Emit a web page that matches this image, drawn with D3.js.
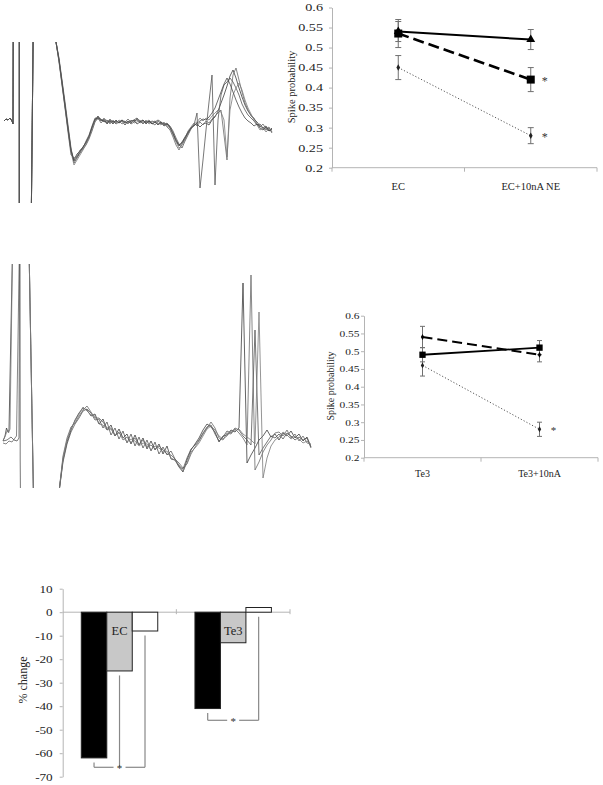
<!DOCTYPE html>
<html><head><meta charset="utf-8">
<script src="https://cdn.jsdelivr.net/npm/d3@7"></script>
<style>
body{margin:0;background:#fff;}
svg{display:block;}
</style></head><body>
<svg id="fig" width="603" height="785"></svg>
<script>
// ---------------- DATA ----------------
// Recording traces (time in ms, voltage in mV), panel A (EC)
const traceTopPrefix = [[0.4,0.2],[0.6,0.4],[0.8,0.3],[1.0,0.5],[1.2,0.2],[1.3,-0.1],[1.33,12],[1.93,12],[1.93,-12],[3.1,-12],[3.35,12],[5.0,12]];
const traceTopStart = 5.6, traceTopDt = 0.3;
const traceTop1 = [8.1,6.3,4.1,1.8,-0.5,-2.7,-3.7,-3.1,-2.8,-2.4,-2.0,-1.4,-0.5,0.3,0.7,0.2,0.4,-0.1,0.2,-0.1,0.3,0,0.2,-0.2,0.2,0,0.3,0.5,0.1,0.3,-0.1,0.2,-0.1,0.1,-0.2,0.1,-0.3,-0.1,-0.5,-1.1,-1.8,-2.3,-1.9,-1.4,-0.9,-0.5,-0.2,-0.1,-0.4,-0.1,0,-0.2,0.3,0.6,1.2,2.0,2.8,3.7,4.7,5.3,4.5,3.5,2.6,1.8,1.2,0.8,0.4,0.1,-0.3,-0.5,-0.3,-0.8,-0.5];
const traceTop2 = [8.1,6.1,3.8,1.5,-0.9,-3.2,-3.5,-3.3,-2.7,-2.5,-1.8,-1.2,-0.3,0.5,0.5,0,0.3,0.1,0.4,0,0.1,0.2,-0.1,0.1,0.4,0.1,0.2,0.3,0,0.2,0.1,0.3,0,-0.2,0.2,-0.1,0,-0.4,-0.7,-1.4,-2.2,-2.7,-2.1,-1.6,-0.8,-0.4,0,-0.3,0.1,-0.2,0.2,0,0.4,0.7,1.0,1.3,-1.2,-3.7,2.5,4.8,5.5,4.3,3.1,2.0,1.3,0.7,0.5,-0.1,-0.4,-0.1,-0.6,-0.4,-0.9];
const traceTop3 = [8.1,6.5,4.3,2.1,-0.2,-2.5,-4.0,-3.5,-3.0,-2.6,-2.2,-1.6,-0.8,0.1,0.6,0.4,0.1,0.3,0,0.2,-0.1,0.1,0.3,0,0.2,-0.1,0.1,0.4,0.2,-0.1,0.2,0,0.2,0.1,-0.1,0,-0.2,0,-0.3,-0.8,-1.5,-2.1,-2.5,-1.8,-1.2,-0.6,-0.2,1.0,-6.5,-3.7,-0.7,2.1,4.8,-6.2,0.3,2.8,3.8,4.1,4.5,4.1,3.5,2.8,1.9,1.3,0.8,0.5,0.2,-0.2,-0.1,-0.5,-0.7,-0.5,-1.0];
const traceTop4 = [8.1,6.2,3.9,1.6,-0.7,-2.9,-4.2,-3.7,-3.2,-2.7,-2.1,-1.4,-0.6,0.2,0.4,0.2,0.5,0.2,-0.1,0.3,0,0.3,0.1,0.2,-0.1,0.3,0,0.1,0.3,0,0.3,-0.1,0.1,0.2,0,-0.2,0.1,-0.3,-0.5,-1.2,-1.9,-2.5,-2.2,-1.7,-1.1,-0.5,-0.1,0.1,0.5,0.2,0.5,0.3,0.7,1.0,1.3,1.1,0.3,-3.4,1.3,2.8,3.5,4.0,3.3,2.3,1.5,0.9,0.3,-0.2,-0.7,-0.5,-0.9,-0.6,-0.7];
const traceTop5 = [8.1,6.3,4.0,1.7,-0.6,-2.8,-3.8,-3.4,-2.9,-2.4,-1.9,-1.3,-0.4,0.4,0.5,0.3,0.2,0,0.3,0.1,0.2,0,0.3,0.1,0,0.2,0.3,-0.1,0.1,0.3,0,0.2,-0.1,0.1,0.3,0.1,-0.1,-0.1,-0.4,-1.0,-1.7,-2.2,-2.0,-1.5,-1.0,-0.5,-0.3,0,0.2,0.4,0.3,0.6,1.0,1.5,2.3,3.1,3.9,4.5,3.9,3.1,2.3,1.6,1.0,0.5,0.2,0,-0.3,-0.1,-0.5,-0.7,-0.4,-0.8,-0.6];

// Recording traces, panel B (Te3)
const traceBotPrefix1 = [[0.3,-0.1],[0.5,0.4],[0.65,1.2],[0.8,0.8],[0.9,1.0],[1.27,20],[2.89,20],[3.39,-8],[5.8,-8]];
const traceBotPrefix2 = [[0.3,-0.3],[0.6,-0.4],[0.9,-0.1],[1.2,-0.2],[1.5,0.2],[1.65,0.4],[1.95,20],[2.89,20],[3.39,-8],[5.8,-8]];
const traceBotPrefix3 = [[0.3,-0.1],[0.7,0],[1.1,0.3],[1.4,0],[1.7,-0.1],[1.9,0.2],[1.96,20],[2.0,20],[2.02,-2.0],[2.06,-8],[5.8,-8]];
const traceBotPrefix4 = [[0.4,0.1],[0.6,0.6],[0.75,1.0],[0.85,0.7],[1.0,1.1],[1.27,20],[2.89,20],[3.39,-8],[5.8,-8]];
const traceBotStart = 5.9, traceBotDt = 0.4;
const traceBot1 = [-5.2,-2.0,-0.2,1.0,2.0,2.7,3.2,3.0,2.4,2.6,1.6,2.1,1.0,1.5,0.4,1.1,0.2,0.6,-0.4,0.5,-0.5,0.2,-0.9,-0.1,-1.0,-0.4,-1.4,-0.6,-1.9,-2.0,-2.7,-3.2,-2.0,-1.0,-0.4,0.2,1.0,1.6,1.3,0.8,-0.2,0.4,0.5,1.0,0.8,1.2,15.7,-2.3,-1.5,-0.8,0,0.4,1.0,0.3,0.6,0,0.7,0.4,0.9,0.2,0.6,-0.1,0.3,-0.7];
const traceBot2 = [-5.2,-1.6,0.2,1.3,1.7,2.4,3.0,3.4,2.8,2.2,2.2,1.8,1.2,1.2,0.4,0.8,0,0.3,-0.3,0.2,-0.5,0,-0.7,-0.5,-0.9,-0.6,-1.0,-1.4,-1.5,-1.9,-2.3,-2.8,-2.4,-1.4,-0.7,-0.1,0.6,1.2,1.8,1.2,0.2,0,0.7,0.6,1.1,0.7,0.2,-0.5,16.5,-3.0,-2.2,-1.2,-0.5,0,0.7,0.8,0.4,1.0,0.2,0.6,-0.1,0.4,-0.3,-0.4];
const traceBot3 = [-5.2,-2.2,-0.4,0.8,1.6,2.2,2.9,3.1,2.7,2.0,2.1,1.2,1.8,0.5,1.2,0.1,0.9,-0.3,0.6,-0.6,0.3,-0.8,0.0,-1.1,-0.2,-1.4,-0.7,-1.5,-1.1,-1.9,-2.6,-2.9,-1.8,-0.9,-0.5,0,0.7,1.3,1.5,0.6,-0.1,0.3,0.9,0.7,1.2,1.0,0.4,0,-0.5,11.0,-1.5,-0.8,-0.2,0.4,0.2,0.6,0.1,0.7,0.4,0,0.3,0,0.2,-0.8];
const traceBot4 = [-5.2,-1.8,0,1.2,1.9,2.6,3.3,2.9,2.5,2.4,1.6,1.5,1.0,1.1,0.5,0.7,0.3,-0.2,0.1,-0.1,-0.6,-0.3,-0.4,-1.0,-0.6,-0.8,-1.2,-1.1,-1.8,-2.0,-2.5,-3.1,-2.3,-1.2,-0.8,-0.3,0.4,1.1,1.4,1.0,0.4,0.1,0.4,0.9,0.9,1.1,0.6,0.3,0,-0.4,12.8,-3.8,-1.8,-0.6,0,0.3,0.8,0.5,0.1,0.4,0.1,-0.3,-0.1,-0.5];

// Spike probability, EC
const probCatsEC = ["EC", "EC+10nA NE"];
const probECSolid = [0.54, 0.52],  probECSolidErr = [0.025, 0.025];
const probECDashed = [0.535, 0.42], probECDashedErr = [0.035, 0.03];
const probECDotted = [0.45, 0.28], probECDottedErr = [0.03, 0.02];

// Spike probability, Te3
const probCatsTe3 = ["Te3", "Te3+10nA"];
const probTe3Solid = [0.49, 0.51],  probTe3SolidErr = [0.02, 0.02];
const probTe3Dashed = [0.54, 0.49], probTe3DashedErr = [0.03, 0.02];
const probTe3Dotted = [0.46, 0.28], probTe3DottedErr = [0.03, 0.02];

const probTicks = [0.2, 0.25, 0.3, 0.35, 0.4, 0.45, 0.5, 0.55, 0.6];

// % change bar chart
const barGroups = ["EC", "Te3"];
const barSeries = ["black", "gray", "white"];
const barBlack = [-62, -41];
const barGray = [-25, -13];
const barWhite = [-8, 2];
const barTicks = [10, 0, -10, -20, -30, -40, -50, -60, -70];
const sigLevels = [-66, -46];
const sigLegs = [["black", "gray", "white"], ["black", "white"]];

// ---------------- DRAWING ----------------
const FONT = '"Liberation Serif","Times New Roman",serif';
const TXT = "#222", AXIS = "#b4b4b4", ERR = "#707070";
const svg = d3.select("#fig").attr("font-family", FONT);
const defs = svg.append("defs");

function clipRect(id, x, y, w, h) {
  defs.append("clipPath").attr("id", id).append("rect").attr("x", x).attr("y", y).attr("width", w).attr("height", h);
}

function drawTraces(prefixes, t0, dt, traces, colors, clipId, xs, ys) {
  const g = svg.append("g").attr("clip-path", `url(#${clipId})`);
  const line = d3.line().x(d => xs(d[0])).y(d => ys(d[1]));
  traces.forEach((vals, k) => {
    const pts = prefixes[k].concat(vals.map((v, i) => [t0 + i * dt, v]));
    g.append("path").attr("d", line(pts)).attr("fill", "none")
      .attr("stroke", colors[k]).attr("stroke-width", 0.8).attr("stroke-linejoin", "round");
  });
}

// Panel A traces
clipRect("clipTop", 0, 42, 290, 161);
const xTop = d3.scaleLinear().domain([0, 28]).range([0, 280]);
const yTop = d3.scaleLinear().domain([-8, 8]).range([203, 43]);
drawTraces([traceTopPrefix, traceTopPrefix, traceTopPrefix, traceTopPrefix, traceTopPrefix],
  traceTopStart, traceTopDt, [traceTop1, traceTop2, traceTop3, traceTop4, traceTop5],
  ["#3c3c3c", "#6a6a6a", "#555", "#7c7c7c", "#474747"], "clipTop", xTop, yTop);

// Panel B traces
clipRect("clipBot", 0, 264, 330, 224);
const xBot = d3.scaleLinear().domain([0, 32]).range([0, 320]);
const yBot = d3.scaleLinear().domain([-4.8, 17.6]).range([488, 264]);
drawTraces([traceBotPrefix1, traceBotPrefix2, traceBotPrefix3, traceBotPrefix4],
  traceBotStart, traceBotDt, [traceBot1, traceBot2, traceBot3, traceBot4],
  ["#3c3c3c", "#6a6a6a", "#555", "#7a7a7a"], "clipBot", xBot, yBot);

function probChart(o) {
  const g = svg.append("g");
  const x = d3.scaleBand().domain(o.cats).range([o.left, o.right]);
  const bw = x.bandwidth();
  const cx = c => x(c) + bw / 2;
  const y = d3.scaleLinear().domain([0.2, 0.6]).range([o.bottom, o.top]);
  const ya = g.append("g").attr("transform", `translate(${o.left},0)`)
    .call(d3.axisLeft(y).tickValues(probTicks).tickSize(3).tickSizeOuter(0)
      .tickFormat(d => String(+d.toFixed(2))));
  ya.attr("font-family", FONT);
  ya.select(".domain").attr("stroke", AXIS);
  ya.selectAll(".tick line").attr("stroke", AXIS);
  ya.selectAll(".tick text").attr("font-size", o.tickFont).attr("fill", TXT)
    .attr("x", 0).attr("transform", `translate(${-o.tickOff},0) scale(${o.tickStretch},1)`);
  // x axis
  g.append("line").attr("x1", o.left).attr("x2", o.right).attr("y1", o.bottom).attr("y2", o.bottom).attr("stroke", AXIS);
  const bounds = o.cats.map(c => x(c)).concat([o.right]);
  bounds.forEach(b => g.append("line").attr("x1", b).attr("x2", b).attr("y1", o.bottom).attr("y2", o.bottom + 4).attr("stroke", AXIS));
  o.cats.forEach(c => g.append("text").attr("x", cx(c)).attr("y", o.catY).attr("text-anchor", "middle")
    .attr("font-size", o.catFont).attr("fill", TXT).text(c));
  g.append("text").attr("transform", `translate(${o.yLabelX},${o.yLabelY}) rotate(-90)`)
    .attr("text-anchor", "middle").attr("dy", "0.35em").attr("font-size", o.yLabelFont).attr("fill", TXT)
    .text("Spike probability");
  // lines
  o.series.forEach(s => {
    const pts = s.values.map((v, i) => [cx(o.cats[i]), y(v)]);
    g.append("path").attr("d", d3.line()(pts)).attr("fill", "none").attr("stroke", s.color)
      .attr("stroke-width", s.width).attr("stroke-dasharray", s.dash || null);
  });
  // error bars
  o.series.forEach(s => {
    s.values.forEach((v, i) => {
      const X = cx(o.cats[i]), e = s.err[i];
      const y1 = y(v - e), y2 = y(v + e);
      g.append("line").attr("x1", X).attr("x2", X).attr("y1", y1).attr("y2", y2).attr("stroke", ERR).attr("stroke-width", 1);
      [y1, y2].forEach(yy => g.append("line").attr("x1", X - o.cap).attr("x2", X + o.cap)
        .attr("y1", yy).attr("y2", yy).attr("stroke", ERR).attr("stroke-width", 1));
    });
  });
  // markers
  o.series.forEach(s => {
    s.values.forEach((v, i) => {
      g.append("path").attr("d", d3.symbol(s.symbol, s.size)())
        .attr("transform", `translate(${cx(o.cats[i])},${y(v)})`).attr("fill", s.mcolor || s.color);
    });
  });
  // significance stars
  o.stars.forEach(st => {
    const s = o.series[st.series];
    g.append("text").attr("x", cx(o.cats[st.cat]) + o.starDx).attr("y", y(s.values[st.cat]) + o.starFont * 0.45)
      .attr("text-anchor", "middle").attr("font-size", o.starFont).attr("fill", "#333").text("*");
  });
}

probChart({
  cats: probCatsEC, left: 332, right: 597, top: 7.5, bottom: 167.7,
  tickFont: 10.5, tickStretch: 1.35, tickOff: 9, catY: 189.5, catFont: 10.5,
  yLabelX: 291, yLabelY: 87, yLabelFont: 10.5, cap: 3,
  series: [
    {values: probECDotted, err: probECDottedErr, color: "#555", width: 1, dash: "1.2,2", symbol: d3.symbolDiamond, size: 12, mcolor: "#222"},
    {values: probECSolid, err: probECSolidErr, color: "#000", width: 2, symbol: d3.symbolTriangle, size: 34},
    {values: probECDashed, err: probECDashedErr, color: "#000", width: 2.6, dash: "11,5", symbol: d3.symbolSquare, size: 64}
  ],
  stars: [{series: 2, cat: 1}, {series: 0, cat: 1}], starDx: 14, starFont: 12
});

probChart({
  cats: probCatsTe3, left: 364, right: 598, top: 315.7, bottom: 457.7,
  tickFont: 8.8, tickStretch: 1.3, tickOff: 4.5, catY: 476.5, catFont: 10,
  yLabelX: 330, yLabelY: 386, yLabelFont: 10, cap: 2.5,
  series: [
    {values: probTe3Dotted, err: probTe3DottedErr, color: "#555", width: 1, dash: "1.2,2", symbol: d3.symbolDiamond, size: 10, mcolor: "#222"},
    {values: probTe3Dashed, err: probTe3DashedErr, color: "#000", width: 2, dash: "10,5", symbol: d3.symbolDiamond, size: 10},
    {values: probTe3Solid, err: probTe3SolidErr, color: "#000", width: 1.8, symbol: d3.symbolSquare, size: 40}
  ],
  stars: [{series: 0, cat: 1}], starDx: 14, starFont: 11
});

// ---- % change bar chart ----
(function () {
  const left = 62.7, right = 290, top = 588.7, bottom = 776.7;
  const g = svg.append("g");
  const x0 = d3.scaleBand().domain(barGroups).range([left, right]);
  const x1 = d3.scaleBand().domain(barSeries).range([0, x0.bandwidth()]).paddingInner(0).paddingOuter(0.73);
  const y = d3.scaleLinear().domain([-70, 10]).range([bottom, top]);
  const vals = {black: barBlack, gray: barGray, white: barWhite};
  const fills = {black: "#000", gray: "#c8c8c8", white: "#fff"};
  const ya = g.append("g").attr("transform", `translate(${left},0)`)
    .call(d3.axisLeft(y).tickValues(barTicks).tickSize(3).tickSizeOuter(0).tickFormat(d => String(d)));
  ya.attr("font-family", FONT);
  ya.select(".domain").attr("stroke", AXIS);
  ya.selectAll(".tick line").attr("stroke", AXIS);
  ya.selectAll(".tick text").attr("font-size", 11).attr("fill", TXT)
    .attr("x", 0).attr("transform", `translate(-10,0) scale(1.2,1)`);
  // zero line
  g.append("line").attr("x1", left).attr("x2", right).attr("y1", y(0)).attr("y2", y(0)).attr("stroke", AXIS);
  barGroups.map(gr => x0(gr) + x0.bandwidth()).forEach(b =>
    g.append("line").attr("x1", b).attr("x2", b).attr("y1", y(0) - 3).attr("y2", y(0) + 2).attr("stroke", AXIS));
  // bars
  barGroups.forEach((gr, gi) => {
    barSeries.forEach(s => {
      const v = vals[s][gi];
      g.append("rect").attr("x", x0(gr) + x1(s)).attr("width", x1.bandwidth())
        .attr("y", y(Math.max(0, v))).attr("height", Math.abs(y(v) - y(0)))
        .attr("fill", fills[s]).attr("stroke", "#222").attr("stroke-width", 1);
    });
    g.append("text").attr("x", x0(gr) + x1("gray") + x1.bandwidth() / 2).attr("y", y(0) + 23)
      .attr("text-anchor", "middle").attr("font-size", 12.5).attr("fill", TXT).text(gr);
  });
  // significance brackets
  barGroups.forEach((gr, gi) => {
    const legs = sigLegs[gi];
    const yl = y(sigLevels[gi]);
    const xs = legs.map(s => x0(gr) + x1(s) + x1.bandwidth() / 2);
    legs.forEach((s, k) => {
      const v = vals[s][gi];
      g.append("line").attr("x1", xs[k]).attr("x2", xs[k]).attr("y1", y(Math.min(0, v)) + 4.5).attr("y2", yl)
        .attr("stroke", "#888").attr("stroke-width", 1.2);
    });
    const xa = (xs[0] + xs[xs.length - 1]) / 2;
    const xmin = xs[0], xmax = xs[xs.length - 1];
    g.append("line").attr("x1", xmin).attr("x2", xa - 6).attr("y1", yl).attr("y2", yl).attr("stroke", "#888").attr("stroke-width", 1.2);
    g.append("line").attr("x1", xa + 6).attr("x2", xmax).attr("y1", yl).attr("y2", yl).attr("stroke", "#888").attr("stroke-width", 1.2);
    g.append("text").attr("x", xa).attr("y", yl + 5).attr("text-anchor", "middle").attr("font-size", 11).attr("fill", "#333").text("*");
  });
  g.append("text").attr("transform", `translate(23,680) rotate(-90)`).attr("text-anchor", "middle")
    .attr("dy", "0.35em").attr("font-size", 12).attr("fill", TXT).text("% change");
})();
</script>
</body></html>
